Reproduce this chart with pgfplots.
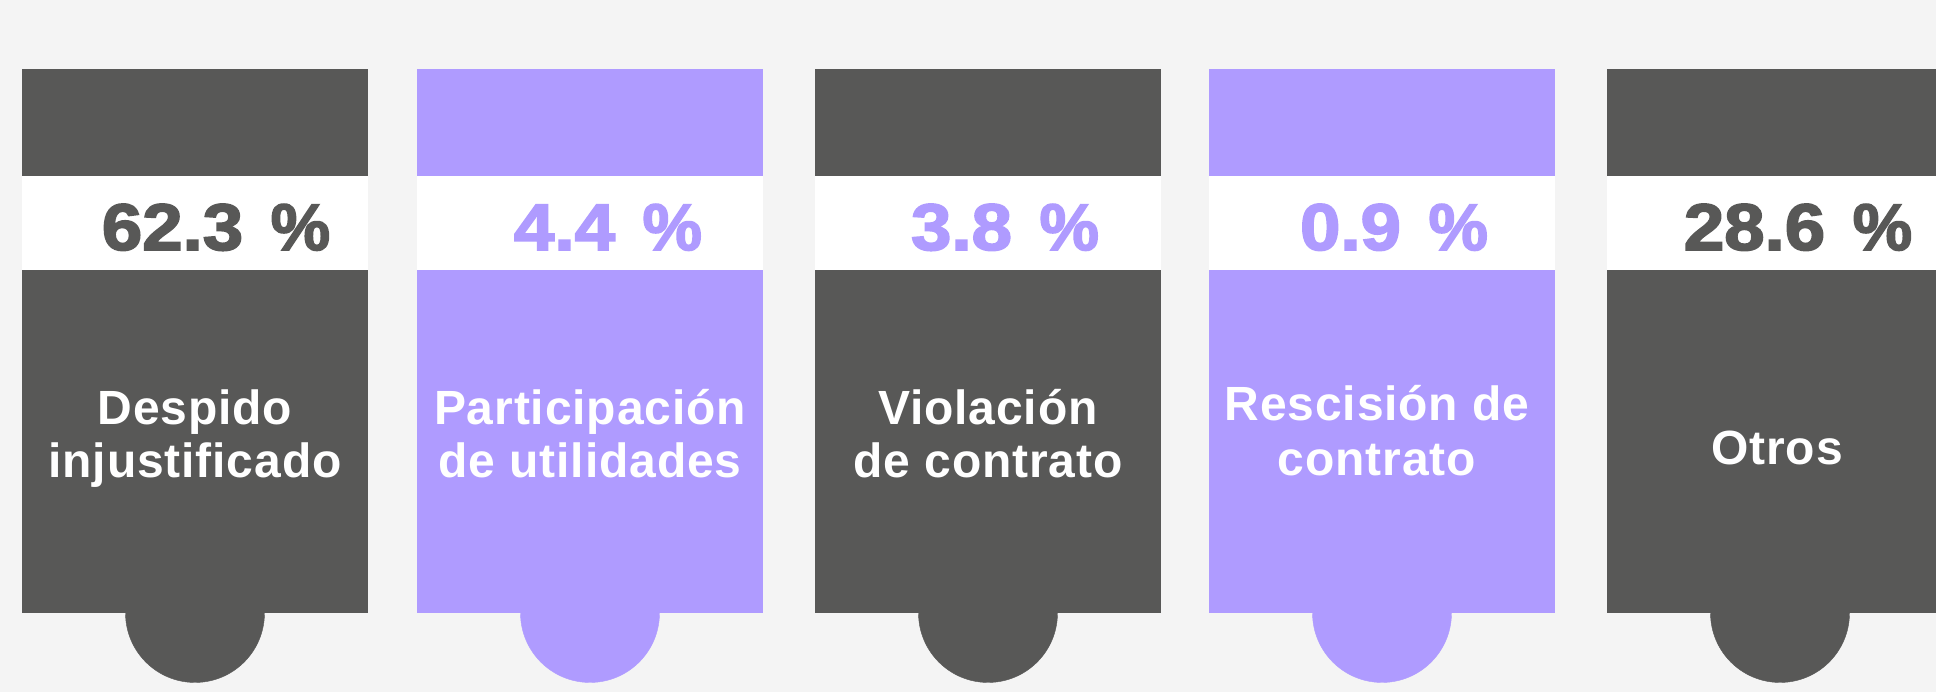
\documentclass[border=0pt]{standalone}
\usepackage{pgfplots}
\pgfplotsset{compat=1.18}
\usepackage{fontspec}
\setmainfont{Liberation Sans}
\newfontfamily\heavy[FakeBold=2.5]{Liberation Sans Bold}
\newfontfamily\labfont[LetterSpace=1.8]{Liberation Sans Bold}
\definecolor{bg}{HTML}{F4F4F4}
\definecolor{dk}{HTML}{585857}
\definecolor{pu}{HTML}{AF9BFF}
\newcommand{\pc}[1]{\scalebox{1.1}[1]{#1\hspace{0.38em}\scalebox{0.92}[1]{\%}}}
\begin{document}
\begin{tikzpicture}
\begin{axis}[
  x=1pt, y=1pt,
  xmin=0, xmax=1936, ymin=0, ymax=692,
  axis line style={draw=none},
  ticks=none,
  axis background/.style={fill=bg},
  clip=true,
]
% semicircles at the bottom of each column
\addplot[only marks, mark=*, mark size=69.5pt, dk, mark options={draw=none,fill=dk}] coordinates {(195,79) (988,79) (1780,79)};
\addplot[only marks, mark=*, mark size=69.5pt, pu, mark options={draw=none,fill=pu}] coordinates {(590,79) (1382,79)};
% columns
\addplot[fill=dk, draw=none] coordinates {(22,79) (368,79) (368,623) (22,623)} -- cycle;
\addplot[fill=pu, draw=none] coordinates {(417,79) (763,79) (763,623) (417,623)} -- cycle;
\addplot[fill=dk, draw=none] coordinates {(815,79) (1161,79) (1161,623) (815,623)} -- cycle;
\addplot[fill=pu, draw=none] coordinates {(1209,79) (1555,79) (1555,623) (1209,623)} -- cycle;
\addplot[fill=dk, draw=none] coordinates {(1607,79) (1936,79) (1936,623) (1607,623)} -- cycle;
% white bands
\addplot[fill=white, draw=none] coordinates {(22,422) (368,422) (368,516) (22,516)} -- cycle;
\addplot[fill=white, draw=none] coordinates {(417,422) (763,422) (763,516) (417,516)} -- cycle;
\addplot[fill=white, draw=none] coordinates {(815,422) (1161,422) (1161,516) (815,516)} -- cycle;
\addplot[fill=white, draw=none] coordinates {(1209,422) (1555,422) (1555,516) (1209,516)} -- cycle;
\addplot[fill=white, draw=none] coordinates {(1607,422) (1936,422) (1936,516) (1607,516)} -- cycle;
% percentages
\tikzset{pct/.style={anchor=base, inner sep=0pt, font=\heavy\fontsize{66}{70}\selectfont}}
\node[pct, text=dk] at (axis cs:216,442) {\pc{62.3}};
\node[pct, text=pu] at (axis cs:608,442) {\pc{4.4}};
\node[pct, text=pu] at (axis cs:1005,442) {\pc{3.8}};
\node[pct, text=pu] at (axis cs:1394,442) {\pc{0.9}};
\node[pct, text=dk] at (axis cs:1798,442) {\pc{28.6}};
% labels
\tikzset{lab/.style={anchor=base, inner sep=0pt, text=white, font=\labfont\fontsize{48}{53}\selectfont}}
\node[lab] at (axis cs:195,267) {Despido};
\node[lab] at (axis cs:195,214) {injustificado};
\node[lab] at (axis cs:590,267) {Participación};
\node[lab] at (axis cs:590,214) {de utilidades};
\node[lab] at (axis cs:988,267) {Violación};
\node[lab] at (axis cs:988,214) {de contrato};
\node[lab] at (axis cs:1377,271) {Rescisión de};
\node[lab] at (axis cs:1377,216) {contrato};
\node[lab] at (axis cs:1777,227) {Otros};
\end{axis}
\end{tikzpicture}
\end{document}
